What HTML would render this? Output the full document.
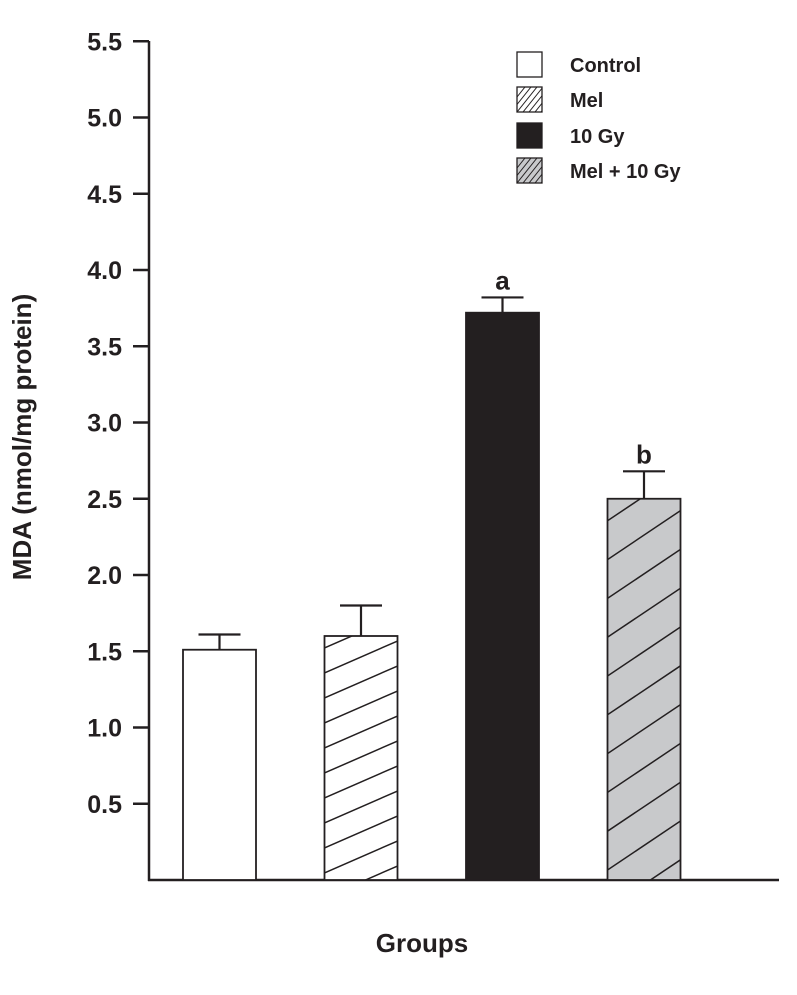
<!DOCTYPE html>
<html><head><meta charset="utf-8"><style>
body{margin:0;background:#fff}
text{font-family:"Liberation Sans",Arial,sans-serif;font-weight:bold;fill:#231f20}
</style></head><body>
<svg id="chart" width="797" height="990" viewBox="0 0 797 990" xmlns="http://www.w3.org/2000/svg">
<defs id="defs"></defs>
<g id="plot"></g>
</svg>
<script>
const categories = ["Control", "Mel", "10 Gy", "Mel + 10 Gy"];
const values = [1.51, 1.60, 3.72, 2.50];
const errors = [0.10, 0.20, 0.10, 0.18];
const sigLabels = ["", "", "a", "b"];
const yTicks = [0.5, 1.0, 1.5, 2.0, 2.5, 3.0, 3.5, 4.0, 4.5, 5.0, 5.5];
const yTickLabels = ["0.5","1.0","1.5","2.0","2.5","3.0","3.5","4.0","4.5","5.0","5.5"];

const NS = "http://www.w3.org/2000/svg";
const svg = document.getElementById("plot");
const defs = document.getElementById("defs");
const x0 = 149, xEnd = 779, yZero = 880, pxPerUnit = 152.5;
const y = v => yZero - v * pxPerUnit;
const barX = i => 183 + i * 141.5;
const barW = 73;
const fills = ["#fff", "#fff", "#231f20", "#c8c9cb"];
const hatched = [false, true, false, true];
const hatchStep = [0, 25, 0, 38.8];
const hatchRise = [0, 32, 0, 49];
const hatchStart = [0, 873, 0, 870];
const ink = "#231f20";

function mk(tag, attrs, parent) {
  const e = document.createElementNS(NS, tag);
  for (const k in attrs) e.setAttribute(k, attrs[k]);
  (parent || svg).appendChild(e);
  return e;
}

const ya = mk("line", {x1: x0, y1: 41, x2: x0, y2: yZero + 1, stroke: ink, "stroke-width": 2.5});


const xa = mk("line", {x1: x0 - 1, y1: yZero, x2: xEnd, y2: yZero, stroke: ink, "stroke-width": 2.5});



yTicks.forEach((t, i) => {
  const tk = mk("line", {x1: x0 - 16, y1: y(t), x2: x0, y2: y(t), stroke: ink, "stroke-width": 2.5});
  
  
  const lb = mk("text", {x: 122, y: y(t) + 9, "text-anchor": "end", "font-size": 25});
  lb.textContent = yTickLabels[i];
  
  
});

values.forEach((v, i) => {
  const bx = barX(i), top = y(v), cx = bx + barW / 2;
  const g = mk("g", {});
  
  
  const err = y(v + errors[i]);
  mk("line", {x1: cx, y1: top, x2: cx, y2: err, stroke: ink, "stroke-width": 2.2}, g);
  mk("line", {x1: cx - 21, y1: err, x2: cx + 21, y2: err, stroke: ink, "stroke-width": 2.2}, g);
  mk("rect", {x: bx, y: top, width: barW, height: yZero - top, fill: fills[i]}, g);
  if (hatched[i]) {
    const cp = mk("clipPath", {id: "cp" + i}, defs);
    mk("rect", {x: bx, y: top, width: barW, height: yZero - top}, cp);
    const hg = mk("g", {"clip-path": "url(#cp" + i + ")"}, g);
    for (let yy = hatchStart[i] + 2 * hatchStep[i]; yy > top - hatchStep[i]; yy -= hatchStep[i]) {
      mk("line", {x1: bx, y1: yy, x2: bx + barW, y2: yy - hatchRise[i], stroke: ink, "stroke-width": 1.5}, hg);
    }
  }
  mk("rect", {x: bx, y: top, width: barW, height: yZero - top, fill: "none", stroke: ink, "stroke-width": 1.8}, g);
  if (sigLabels[i]) {
    const s = mk("text", {x: cx, y: err - 8, "text-anchor": "middle", "font-size": 26});
    s.textContent = sigLabels[i];
    
    
  }
});

const legYs = [52, 87, 123, 158];
categories.forEach((c, i) => {
  const g = mk("g", {});
  
  
  const ly = legYs[i];
  mk("rect", {x: 517, y: ly, width: 25, height: 25, fill: fills[i]}, g);
  if (hatched[i]) {
    const cp = mk("clipPath", {id: "lcp" + i}, defs);
    mk("rect", {x: 517, y: ly, width: 25, height: 25}, cp);
    const hg = mk("g", {"clip-path": "url(#lcp" + i + ")"}, g);
    for (let k = -2; k < 6; k++) {
      const bx = 517 + k * 6;
      mk("line", {x1: bx, y1: ly + 25, x2: bx + 20, y2: ly, stroke: ink, "stroke-width": 1}, hg);
    }
  }
  mk("rect", {x: 517, y: ly, width: 25, height: 25, fill: "none", stroke: ink, "stroke-width": 1.3}, g);
  const t = mk("text", {x: 570, y: ly + 20, "font-size": 20}, g);
  t.textContent = c;
});

const yt = mk("text", {x: 0, y: 0, "text-anchor": "middle", "font-size": 26, transform: "translate(31,437) rotate(-90)"});
yt.textContent = "MDA (nmol/mg protein)";


const xt = mk("text", {x: 422, y: 952, "text-anchor": "middle", "font-size": 26});
xt.textContent = "Groups";


</script>
</body></html>
